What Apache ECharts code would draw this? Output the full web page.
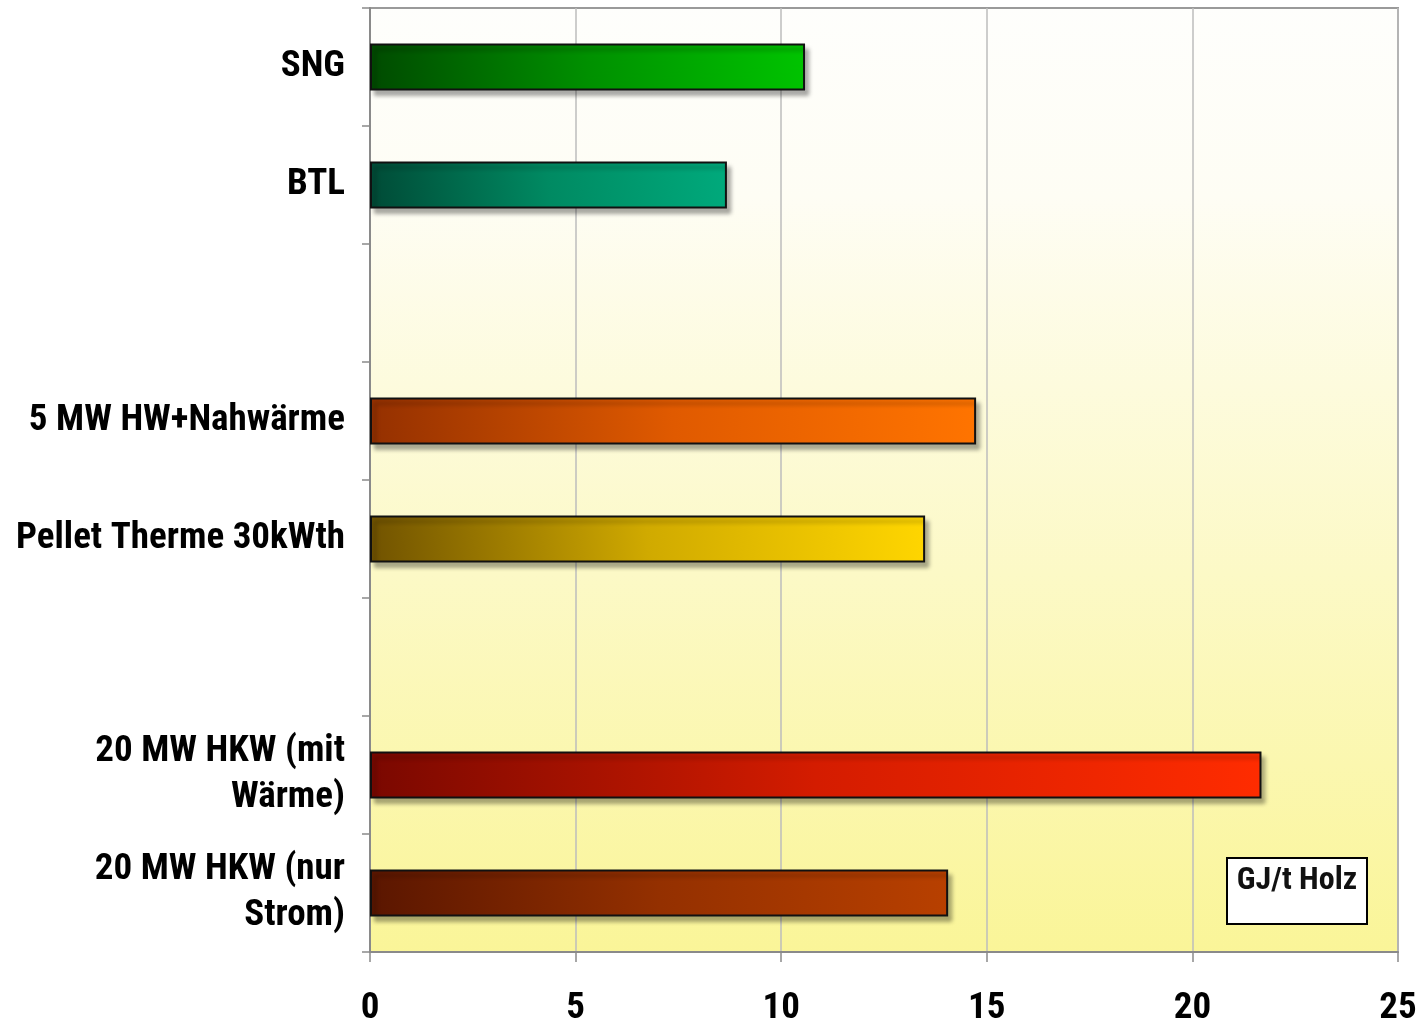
<!DOCTYPE html>
<html>
<head>
<meta charset="utf-8">
<script src="https://cdn.jsdelivr.net/npm/echarts@6/dist/echarts.min.js"></script>
<style>
html,body{margin:0;padding:0;background:#fff;}
#chart{width:1417px;height:1023px;}
</style>
</head>
<body>
<div id="chart"></div>
<script>
const categories = ['SNG', 'BTL', ' ', '5 MW HW+Nahwärme', 'Pellet Therme 30kWth', '  ', '20 MW HKW (mit\nWärme)', '20 MW HKW (nur\nStrom)'];
const values = [10.58, 8.68, null, 14.74, 13.5, null, 21.68, 14.06];
const darkColors = ['#004a00', '#004a36', null, '#943000', '#705200', null, '#7a0800', '#5a1600'];
const midColors = ['#009000', '#008a62', null, '#e05a00', '#d0aa00', null, '#d41c00', '#943000'];
const brightColors = ['#00c400', '#00aa7c', null, '#ff7400', '#ffd600', null, '#ff2c00', '#b84000'];
const xTicks = [0, 5, 10, 15, 20, 25];
const unitLabel = 'GJ/t Holz';

const FONT = "'Roboto Condensed', 'Liberation Sans', sans-serif";

const chart = echarts.init(document.getElementById('chart'));

const barData = values.map((v, i) => {
  if (v === null) return null;
  return {
    value: v,
    itemStyle: {
      color: new echarts.graphic.LinearGradient(0, 1, 1, 0, [
        { offset: 0, color: darkColors[i] },
        { offset: 0.5, color: midColors[i] },
        { offset: 1, color: brightColors[i] }
      ])
    }
  };
});

chart.setOption({
  animation: false,
  backgroundColor: '#ffffff',
  grid: {
    left: 370, right: 19, top: 8, bottom: 71,
    containLabel: false,
    outerBoundsMode: 'none',
    show: true,
    borderColor: '#9a9a9a',
    borderWidth: 2,
    backgroundColor: new echarts.graphic.LinearGradient(0, 0, 0, 1, [
      { offset: 0, color: '#fefefc' },
      { offset: 0.2, color: '#fefdf4' },
      { offset: 0.6, color: '#fcf9c6' },
      { offset: 1, color: '#faf598' }
    ])
  },
  xAxis: {
    type: 'value',
    min: xTicks[0],
    max: xTicks[xTicks.length - 1],
    interval: 5,
    axisLine: { show: true, lineStyle: { color: '#8a8a8a', width: 2 } },
    axisTick: { show: true, length: 10, lineStyle: { color: '#8a8a8a', width: 1.5 } },
    splitLine: { show: true, lineStyle: { color: '#bdbdbd', width: 1.5 } },
    axisLabel: {
      margin: 38,
      fontFamily: FONT,
      fontWeight: 'bold',
      fontSize: 37,
      color: '#000'
    }
  },
  yAxis: {
    type: 'category',
    data: categories,
    inverse: true,
    axisLine: { show: true, lineStyle: { color: '#8a8a8a', width: 2 } },
    axisTick: { show: true, length: 8, lineStyle: { color: '#8a8a8a', width: 1.5 } },
    splitLine: { show: false },
    axisLabel: {
      margin: 25,
      fontFamily: FONT,
      fontWeight: 'bold',
      fontSize: 37,
      lineHeight: 46,
      padding: [8, 0, 0, 0],
      color: '#000',
      align: 'right'
    }
  },
  series: [{
    type: 'bar',
    data: barData,
    barWidth: 47,
    itemStyle: {
      borderColor: '#111',
      borderWidth: 2,
      shadowColor: 'rgba(0,0,0,0.3)',
      shadowBlur: 4,
      shadowOffsetX: 4,
      shadowOffsetY: 5
    }
  }],
  graphic: [
    {
      type: 'rect',
      x: 1227, y: 858,
      shape: { x: 0, y: 0, width: 140, height: 66 },
      style: { fill: '#ffffff', stroke: '#000', lineWidth: 2 },
      z: 10
    },
    {
      type: 'text',
      x: 1297, y: 865,
      style: {
        text: unitLabel,
        align: 'center',
        verticalAlign: 'top',
        textAlign: 'center',
        textVerticalAlign: 'top',
        fontFamily: FONT,
        fontWeight: 'bold',
        fontSize: 32,
        fill: '#111'
      },
      z: 11
    }
  ]
});
</script>
</body>
</html>
